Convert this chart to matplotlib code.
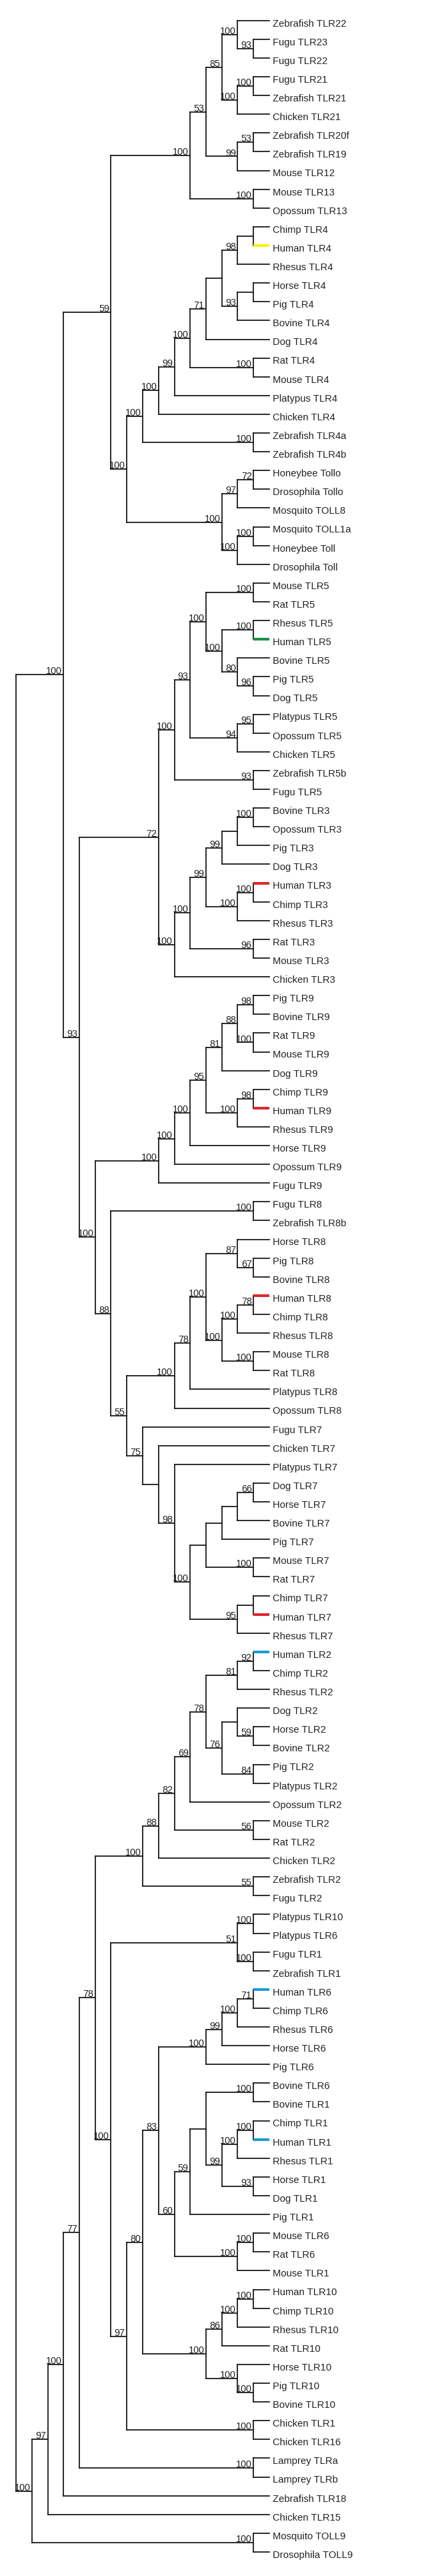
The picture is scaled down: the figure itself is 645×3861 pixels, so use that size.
import matplotlib
matplotlib.use("Agg")
import matplotlib.pyplot as plt


# --- Clades (Newick, bootstrap support after each closing bracket) ---
tlr13_clade = ("((((Zebrafish TLR22,(Fugu TLR23,Fugu TLR22)93)100,"
               "((Fugu TLR21,Zebrafish TLR21)100,Chicken TLR21)100)85,"
               "((Zebrafish TLR20f,Zebrafish TLR19)53,Mouse TLR12)99)53,"
               "(Mouse TLR13,Opossum TLR13)100)100")
tlr4_clade = ("((((((((Chimp TLR4,Human TLR4),Rhesus TLR4)98,"
              "((Horse TLR4,Pig TLR4),Bovine TLR4)93),Dog TLR4)71,"
              "(Rat TLR4,Mouse TLR4)100)100,Platypus TLR4)99,Chicken TLR4)100,"
              "(Zebrafish TLR4a,Zebrafish TLR4b)100)100")
insect_toll = ("(((Honeybee Tollo,Drosophila Tollo)72,Mosquito TOLL8)97,"
               "((Mosquito TOLL1a,Honeybee Toll)100,Drosophila Toll)100)100")
tlr5_clade = ("((((Mouse TLR5,Rat TLR5)100,((Rhesus TLR5,Human TLR5)100,"
              "(Bovine TLR5,(Pig TLR5,Dog TLR5)96)80)100)100,"
              "((Platypus TLR5,Opossum TLR5)95,Chicken TLR5)94)93,"
              "(Zebrafish TLR5b,Fugu TLR5)93)100")
tlr3_clade = ("((((((Bovine TLR3,Opossum TLR3)100,Pig TLR3),Dog TLR3)99,"
              "((Human TLR3,Chimp TLR3)100,Rhesus TLR3)100)99,"
              "(Rat TLR3,Mouse TLR3)96)100,Chicken TLR3)100")
tlr9_clade = ("(((((((Pig TLR9,Bovine TLR9)98,(Rat TLR9,Mouse TLR9)100)88,Dog TLR9)81,"
              "((Chimp TLR9,Human TLR9)98,Rhesus TLR9)100)95,Horse TLR9)100,"
              "Opossum TLR9)100,Fugu TLR9)100")
tlr8_clade = ("((((Horse TLR8,(Pig TLR8,Bovine TLR8)67)87,"
              "(((Human TLR8,Chimp TLR8)78,Rhesus TLR8)100,(Mouse TLR8,Rat TLR8)100)100)100,"
              "Platypus TLR8)78,Opossum TLR8)100")
tlr7_clade = ("(Fugu TLR7,(Chicken TLR7,(Platypus TLR7,(((((Dog TLR7,Horse TLR7)66,"
              "Bovine TLR7),Pig TLR7),(Mouse TLR7,Rat TLR7)100),"
              "((Chimp TLR7,Human TLR7),Rhesus TLR7)95)100)98))75")
tlr2_clade = ("(((((((Human TLR2,Chimp TLR2)92,Rhesus TLR2)81,"
              "((Dog TLR2,(Horse TLR2,Bovine TLR2)59),(Pig TLR2,Platypus TLR2)84)76)78,"
              "Opossum TLR2)69,(Mouse TLR2,Rat TLR2)56)82,Chicken TLR2)88,"
              "(Zebrafish TLR2,Fugu TLR2)55)100")
tlr1_basal = "((Platypus TLR10,Platypus TLR6)100,(Fugu TLR1,Zebrafish TLR1)100)51"
tlr6_clade = "((((Human TLR6,Chimp TLR6)71,Rhesus TLR6)100,Horse TLR6)99,Pig TLR6)100"
tlr1_clade = ("((((Bovine TLR6,Bovine TLR1)100,(((Chimp TLR1,Human TLR1)100,Rhesus TLR1)100,"
              "(Horse TLR1,Dog TLR1)93)99),Pig TLR1)59,"
              "((Mouse TLR6,Rat TLR6)100,Mouse TLR1)100)60")
tlr10_clade = ("((((Human TLR10,Chimp TLR10)100,Rhesus TLR10)100,Rat TLR10)86,"
               "(Horse TLR10,(Pig TLR10,Bovine TLR10)100)100)100")

tree_newick = (
    f"((({tlr13_clade},({tlr4_clade},{insect_toll})100)59,"
    f"(({tlr5_clade},{tlr3_clade})72,"
    f"({tlr9_clade},((Fugu TLR8,Zebrafish TLR8b)100,({tlr8_clade},{tlr7_clade})55)88)100)93)100,"
    f"((((({tlr2_clade},({tlr1_basal},((({tlr6_clade},{tlr1_clade})83,{tlr10_clade})80,"
    f"(Chicken TLR1,Chicken TLR16)100)97)100)78,(Lamprey TLRa,Lamprey TLRb)100)77,"
    f"Zebrafish TLR18)100,Chicken TLR15)97,(Mosquito TOLL9,Drosophila TOLL9)100)100)"
)

# human branches shown in colour
highlight = {
    "Human TLR4": "#FFF200",
    "Human TLR5": "#129447",
    "Human TLR3": "#E0262B", "Human TLR9": "#E0262B",
    "Human TLR8": "#E0262B", "Human TLR7": "#E0262B",
    "Human TLR2": "#1A9AD8", "Human TLR6": "#1A9AD8", "Human TLR1": "#1A9AD8",
}


def parse_newick(s):
    assert s.count("(") == s.count(")"), "unbalanced newick"
    pos = 0

    def node():
        nonlocal pos
        children = []
        if s[pos] == "(":
            pos += 1
            while True:
                children.append(node())
                if s[pos] == ",":
                    pos += 1
                    continue
                pos += 1  # ')'
                break
        start = pos
        while pos < len(s) and s[pos] not in ",()":
            pos += 1
        return {"name": s[start:pos].strip(), "children": children}

    root = node()
    assert pos == len(s), "trailing newick text"
    return root


def layout(tree):
    leaves = []

    def walk(n):
        if not n["children"]:
            n["height"] = 0
            n["y"] = len(leaves)
            leaves.append(n)
            return
        for c in n["children"]:
            walk(c)
        n["height"] = 1 + max(c["height"] for c in n["children"])
        n["y"] = (n["children"][0]["y"] + n["children"][-1]["y"]) / 2

    walk(tree)

    def set_x(n, top):
        n["x"] = top - n["height"]
        for c in n["children"]:
            set_x(c, top)

    set_x(tree, tree["height"])
    return leaves


tree = parse_newick(tree_newick)
leaves = layout(tree)
assert len(leaves) == 136 and tree["height"] == 16, (len(leaves), tree["height"])

W, H, DPI = 645, 3862, 100
fig = plt.figure(figsize=(W / DPI, H / DPI), dpi=DPI)
ax = fig.add_axes([0, 0, 1, 1])

# pixel geometry of the reference
x0_px, step_x = 24.0, 23.75
y0_px, step_y = 31.7, 28.106
ax.set_xlim(-x0_px / step_x, (W - x0_px) / step_x)
ax.set_ylim((H - y0_px) / step_y, -y0_px / step_y)
ax.axis("off")

fonts = ["Liberation Sans Narrow", "Liberation Sans", "DejaVu Sans"]
lw = 1.3


def draw(n):
    if not n["children"]:
        return
    ys = [c["y"] for c in n["children"]]
    ax.plot([n["x"], n["x"]], [min(ys), max(ys)], color="#1a1a1a", lw=lw,
            solid_capstyle="projecting")
    for c in n["children"]:
        col = highlight.get(c["name"], "#1a1a1a")
        w = 2.9 if c["name"] in highlight else lw
        ax.plot([n["x"], c["x"]], [c["y"], c["y"]], color=col, lw=w,
                solid_capstyle="projecting" if w == lw else "butt",
                zorder=3 if w != lw else 2)
        draw(c)
    if n["name"]:
        ax.text(n["x"] - 0.1, n["y"] - 0.07, n["name"], ha="right", va="baseline",
                fontsize=10.4, family=fonts, color="#222222")


draw(tree)

for lf in leaves:
    ax.text(lf["x"] + 0.21, lf["y"] + 0.28, lf["name"], ha="left", va="baseline",
            fontsize=10.6, family=fonts, color="#222222")

fig.savefig("out.png", dpi=DPI, facecolor="white")
